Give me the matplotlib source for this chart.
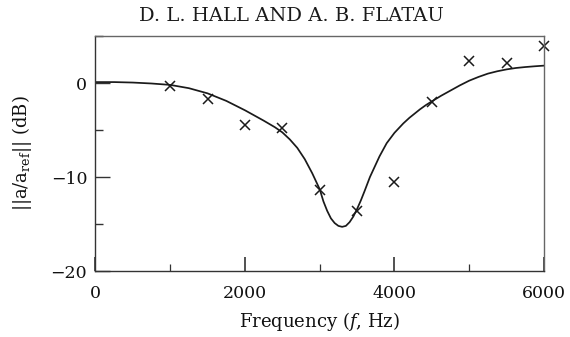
import numpy as np
import matplotlib
matplotlib.use("Agg")
import matplotlib.pyplot as plt
from matplotlib.ticker import MultipleLocator

# measured points (crosses)
meas_freq = [1000, 1500, 2000, 2500, 3000, 3500, 4000, 4500, 5000, 5500, 6000]
meas_db = [-0.3, -1.7, -4.5, -4.8, -11.4, -13.6, -10.5, -2.0, 2.35, 2.1, 3.9]

# model curve
model_freq = [0, 250, 500, 750, 1000, 1250, 1500, 1750, 2000, 2250, 2400,
              2500, 2600, 2700, 2800, 2900, 3000, 3050, 3100, 3150, 3200,
              3250, 3300, 3350, 3400, 3450, 3500, 3550, 3600, 3672, 3800,
              3896, 4000, 4118, 4200, 4341, 4420, 4500, 4625, 4750, 4875,
              5000, 5125, 5250, 5375, 5500, 5625, 5750, 5875, 6000]
model_db = [0.1, 0.1, 0.05, -0.05, -0.2, -0.55, -1.1, -1.9, -2.9, -4.0, -4.7,
            -5.25, -6.0, -6.9, -8.1, -9.6, -11.3, -12.6, -13.6, -14.4, -14.9,
            -15.2, -15.3, -15.2, -14.8, -14.2, -13.4, -12.5, -11.5, -10.0, -7.8,
            -6.4, -5.3, -4.3, -3.7, -2.8, -2.35, -1.95, -1.35, -0.8, -0.25,
            0.25, 0.65, 1.0, 1.25, 1.45, 1.6, 1.7, 1.78, 1.85]

plt.rcParams['font.family'] = ['DejaVu Serif']
plt.rcParams['mathtext.fontset'] = 'dejavuserif'

fig = plt.figure(figsize=(5.7, 3.37), dpi=100)
ax = fig.add_axes([0.1675, 0.1958, 0.7868, 0.6973])

ax.plot(model_freq, model_db, color='#1a1a1a', linewidth=1.25)
ax.plot(meas_freq, meas_db, 'x', color='#1a1a1a', markersize=7.5,
        markeredgewidth=1.1, clip_on=False)

ax.set_xlim(0, 6000)
ax.set_ylim(-20, 5)
ax.xaxis.set_major_locator(MultipleLocator(2000))
ax.xaxis.set_minor_locator(MultipleLocator(1000))
ax.yaxis.set_major_locator(MultipleLocator(10))
ax.yaxis.set_minor_locator(MultipleLocator(5))
ax.tick_params(which='both', direction='in', top=False, right=False,
               labelsize=12.5, colors='#333333', labelcolor='#111111')
ax.tick_params(axis='x', which='major', length=10, width=1.2, pad=10)
ax.tick_params(axis='x', which='minor', length=5, width=0.9)
ax.tick_params(axis='y', which='major', length=10.5, width=1.0, pad=6)
ax.tick_params(axis='y', which='minor', length=5.5, width=1.0)

for side in ['left', 'bottom']:
    ax.spines[side].set_color('#333333')
    ax.spines[side].set_linewidth(1.0)
for side in ['top', 'right']:
    ax.spines[side].set_color('#666666')
    ax.spines[side].set_linewidth(1.0)

ax.set_xlabel('Frequency ($f$, Hz)', fontsize=13, color='#111111', labelpad=6)
ax.set_ylabel('||a/a$_{\\mathrm{ref}}$|| (dB)', fontsize=13, color='#111111',
              labelpad=12)

fig.text(0.512, 0.953, 'D. L. HALL AND A. B. FLATAU', ha='center',
         va='center', fontsize=14, color='#1a1a1a')

fig.savefig('out.png', dpi=100)
